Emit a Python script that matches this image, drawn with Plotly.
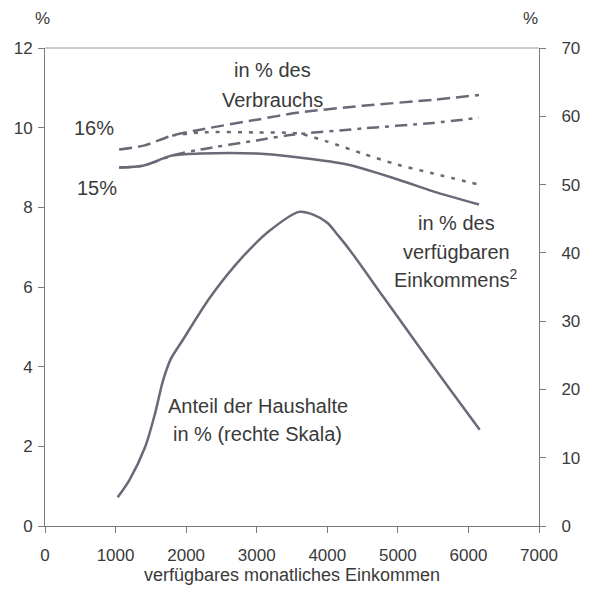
import plotly.graph_objects as go

# Data
verbrauch_dash_x = [1050, 1400, 1800, 2200, 3000, 3600, 4500, 5500, 6150]
verbrauch_dash_y = [9.45, 9.55, 9.8, 9.95, 10.2, 10.38, 10.55, 10.7, 10.82]

verbrauch_dashdot_x = [1050, 1400, 1800, 2200, 3000, 3500, 4500, 5500, 6150]
verbrauch_dashdot_y = [9.0, 9.05, 9.3, 9.45, 9.68, 9.82, 9.98, 10.12, 10.25]

einkommen_dot_x = [1800, 2200, 3000, 3600, 4000, 4500, 5000, 5500, 6150]
einkommen_dot_y = [9.8, 9.88, 9.88, 9.85, 9.65, 9.35, 9.07, 8.85, 8.57]

einkommen_solid_x = [1050, 1400, 1800, 2200, 3000, 3600, 4300, 5000, 5500, 6150]
einkommen_solid_y = [9.0, 9.05, 9.3, 9.35, 9.35, 9.25, 9.07, 8.7, 8.4, 8.07]

haushalte_x = [1030, 1200, 1420, 1560, 1670, 1780, 1950, 2340, 2800, 3190, 3600, 3800, 4000, 4150, 4320, 4790, 5270, 5740, 6160]
haushalte_y = [4.2, 6.8, 11.6, 16.5, 21.2, 24.4, 27.2, 33.5, 39.4, 43.3, 46.0, 45.6, 44.4, 42.6, 40.4, 33.6, 26.7, 20.0, 14.1]

x_ticks = [0, 1000, 2000, 3000, 4000, 5000, 6000, 7000]
y_left_ticks = [0, 2, 4, 6, 8, 10, 12]
y_right_ticks = [0, 10, 20, 30, 40, 50, 60, 70]

LINE = "#6c6877"
TXT = "#3a3a3a"
AX = "#7a7a7a"
FONT = "Liberation Sans, Arial, sans-serif"

fig = go.Figure()
fig.add_trace(go.Scatter(x=verbrauch_dash_x, y=verbrauch_dash_y, mode="lines",
                         line=dict(color=LINE, width=2.5, dash="13px,6px", shape="spline", smoothing=0.8)))
fig.add_trace(go.Scatter(x=verbrauch_dashdot_x, y=verbrauch_dashdot_y, mode="lines",
                         line=dict(color=LINE, width=2.5, dash="12px,6px,4px,6px", shape="spline", smoothing=0.8)))
fig.add_trace(go.Scatter(x=einkommen_dot_x, y=einkommen_dot_y, mode="lines",
                         line=dict(color=LINE, width=2.5, dash="4px,7px", shape="spline", smoothing=0.8)))
fig.add_trace(go.Scatter(x=einkommen_solid_x, y=einkommen_solid_y, mode="lines",
                         line=dict(color=LINE, width=2.5, shape="spline", smoothing=0.8)))
fig.add_trace(go.Scatter(x=haushalte_x, y=haushalte_y, mode="lines", yaxis="y2",
                         line=dict(color=LINE, width=2.5, shape="spline", smoothing=0.8)))

axis_common = dict(showgrid=False, zeroline=False, showline=True, linecolor=AX, linewidth=1,
                   ticks="outside", ticklen=6, tickcolor=AX, automargin=False,
                   tickfont=dict(family=FONT, size=17, color=TXT))

fig.update_layout(
    width=592, height=590,
    margin=dict(l=45, r=53, t=48, b=64),
    paper_bgcolor="white", plot_bgcolor="white",
    showlegend=False,
    font=dict(family=FONT, color=TXT),
    xaxis=dict(range=[0, 7000], tickvals=x_ticks, ticklabelstandoff=8, **axis_common,
               title=dict(text="verfügbares monatliches Einkommen",
                          font=dict(family=FONT, size=18, color=TXT), standoff=2)),
    yaxis=dict(range=[0, 12], tickvals=y_left_ticks, ticklabelstandoff=2, **axis_common),
    yaxis2=dict(range=[0, 70], tickvals=y_right_ticks, overlaying="y", side="right",
                ticklabelstandoff=12, **axis_common),
)

# faint top border
fig.add_shape(type="line", xref="paper", yref="paper", x0=0, x1=1, y0=1, y1=1,
              line=dict(color="#9a9a9a", width=1))

def ann(text, x, y, xref="x", yref="y", size=20, **kw):
    fig.add_annotation(text=text, x=x, y=y, xref=xref, yref=yref, showarrow=False,
                       font=dict(family=FONT, size=size, color=TXT), **kw)

ann("in % des", 3217, 11.45)
ann("Verbrauchs", 3217, 10.7)
ann("16%", 700, 10.0)
ann("15%", 730, 8.49)
ann("in % des", 5824, 7.61)
ann("verfügbaren", 5824, 6.88)
ann("Einkommens<sup>2</sup>", 5824, 6.22)
ann("Anteil der Haushalte", 3018, 3.01)
ann("in % (rechte Skala)", 3018, 2.31)
ann("%", 0.0, 1.0, xref="paper", yref="paper", xanchor="center", yanchor="middle", yshift=30,
    xshift=-3, size=17)
ann("%", 1.0, 1.0, xref="paper", yref="paper", xanchor="center", yanchor="middle", yshift=30,
    xshift=-9, size=17)

fig.write_html("out.html", config={"displayModeBar": False},
               post_script="document.body.style.margin='0';document.body.style.overflow='hidden';")
